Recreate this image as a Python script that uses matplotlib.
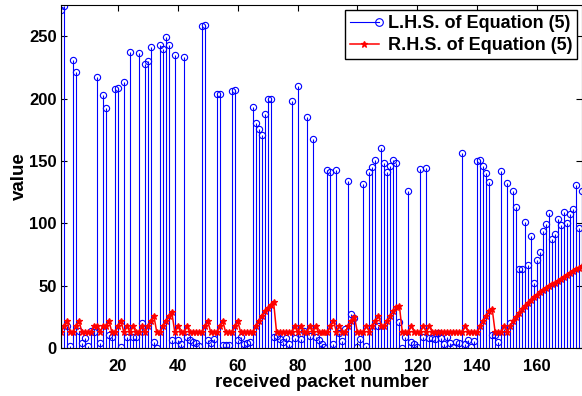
import numpy as np
import matplotlib.pyplot as plt
from matplotlib.lines import Line2D
from matplotlib.legend_handler import HandlerLine2D

plt.rcParams['font.family'] = ['Liberation Sans', 'DejaVu Sans']
plt.rcParams['font.weight'] = 'bold'

packets = np.arange(1, 176)

lhs = [271, 274, 18, 2, 231, 221, 13.6, 4, 7.7, 2,
       14, 13, 217, 3.7, 203, 192.5, 10.4, 8.5, 208, 208.5,
       1, 213.6, 9, 237, 9, 9, 236.5, 19.7, 228, 230,
       241, 4.5, 0.3, 242.6, 240, 249, 242.6, 6.4, 235, 6.4,
       3.2, 233, 9, 6.4, 5, 3.7, 1.9, 258, 259, 6.4,
       3.7, 7, 203.5, 204, 2.4, 2.4, 2.4, 206, 207, 6.4,
       9, 3, 3.7, 5, 193.6, 180, 175.7, 171, 187.7, 199.5,
       199.5, 9, 10, 7, 5, 8, 3, 198, 8, 210,
       7, 14, 185.6, 10, 167.5, 9, 6.4, 3, 1, 143,
       141, 3, 143, 12, 5.6, 15, 134, 27, 24, 0.5,
       7.5, 131.7, 2, 141, 145, 151, 17.8, 160, 148.5, 141,
       146, 151, 148, 21, 0, 9, 126, 5, 3, 1,
       143.7, 9, 144, 8, 8, 7, 12, 8, 3, 8.5,
       3.7, 1, 5, 4, 156.5, 3, 6.4, 1, 6, 149.6,
       150.7, 146, 140.5, 133, 10.4, 10.4, 5, 142, 15, 132,
       20, 125.6, 112.8, 63, 63, 101, 66.7, 90, 52, 70.4,
       77, 93.6, 99.5, 108.5, 87.5, 91, 103.5, 98.7, 109, 100,
       107.7, 111.4, 131, 96, 126]

rhs = [12.5, 18, 22, 12.5, 12.5, 18, 22, 12.5, 12.5, 12.5,
       12.5, 18, 18, 12.5, 18, 18, 22, 12.5, 12.5, 18,
       22, 12.5, 18, 12.5, 18, 12.5, 12.5, 18, 12.5, 18,
       22, 26, 12.5, 12.5, 18, 22, 26, 29, 12.5, 18,
       12.5, 12.5, 18, 12.5, 12.5, 12.5, 12.5, 12.5, 18, 22,
       12.5, 12.5, 12.5, 18, 22, 12.5, 12.5, 12.5, 18, 22,
       12.5, 12.5, 12.5, 12.5, 12.5, 18, 22, 26, 29.5, 32,
       34.5, 37, 12.5, 12.5, 12.5, 12.5, 12.5, 12.5, 18, 12.5,
       18, 12.5, 12.5, 18, 12.5, 18, 12.5, 12.5, 12.5, 12.5,
       18, 22, 12.5, 18, 12.5, 12.5, 18, 22, 25, 12.5,
       12.5, 12.5, 18, 12.5, 18, 22, 26, 18, 18, 22,
       26, 29.5, 32.5, 34, 12.5, 12.5, 12.5, 18, 12.5, 12.5,
       12.5, 18, 12.5, 18, 12.5, 12.5, 12.5, 12.5, 12.5, 12.5,
       12.5, 12.5, 12.5, 12.5, 12.5, 18, 12.5, 12.5, 12.5, 12.5,
       18, 22, 26, 29.5, 31.5, 12.5, 12.5, 12.5, 18, 12.5,
       18, 22, 25, 28, 31, 33.5, 36, 38.5, 40.5, 42.5,
       44.5, 46.5, 48, 49.5, 51, 52.5, 54, 55.5, 57, 58.5,
       60, 61.5, 63, 64.5, 66]

x_ticks = [20, 40, 60, 80, 100, 120, 140, 160]
y_ticks = [0, 50, 100, 150, 200, 250]


class EndMarker(HandlerLine2D):
    # matlab style stem legend: line with the marker at the right end
    def create_artists(self, legend, orig_handle, xdescent, ydescent,
                       width, height, fontsize, trans):
        y = height / 2 - ydescent
        line = Line2D([-xdescent, width - xdescent], [y, y],
                      color=orig_handle.get_color(), lw=orig_handle.get_linewidth())
        mark = Line2D([width - xdescent], [y], ls='none', marker='o',
                      ms=orig_handle.get_markersize() + 1, mec=orig_handle.get_color(),
                      mfc='none', mew=orig_handle.get_markeredgewidth())
        line.set_transform(trans)
        mark.set_transform(trans)
        return [line, mark]


fig = plt.figure(figsize=(5.82, 3.96), dpi=100)
ax = fig.add_axes([61/582, 48/396, 521/582, 343/396])

markers, stems, base = ax.stem(packets, lhs, linefmt='b-', markerfmt='bo', basefmt=' ')
stems.set_linewidth(0.8)
markers.set_markersize(4.5)
markers.set_markerfacecolor('none')
markers.set_markeredgewidth(0.8)

red, = ax.plot(packets, rhs, 'r-*', lw=1.1, ms=5, mew=0.9)

ax.set_xlim(1, 175)
ax.set_ylim(0, 275)
ax.set_xticks(x_ticks)
ax.set_yticks(y_ticks)
ax.tick_params(direction='in', top=True, right=True, length=4, labelsize=12)
ax.tick_params(axis='x', pad=8)
ax.tick_params(axis='y', pad=3)
ax.set_xlabel('received packet number', fontsize=13.5, fontweight='bold', labelpad=0)
ax.set_ylabel('value', fontsize=13.5, fontweight='bold', labelpad=1)

blue_h = Line2D([], [], color='b', lw=0.8, marker='o', ms=4.5, mew=0.8, mfc='none')
leg = ax.legend([blue_h, red], ['L.H.S. of Equation (5)', 'R.H.S. of Equation (5)'],
                loc='upper right', fontsize=13, fancybox=False, framealpha=1,
                edgecolor='black', borderaxespad=0.3, handlelength=1.6,
                handletextpad=0.5, borderpad=0.25, labelspacing=0.3,
                handler_map={blue_h: EndMarker()})
leg.get_frame().set_linewidth(1.0)
for t in leg.get_texts():
    t.set_fontweight('bold')

fig.savefig('out.png', dpi=100)
